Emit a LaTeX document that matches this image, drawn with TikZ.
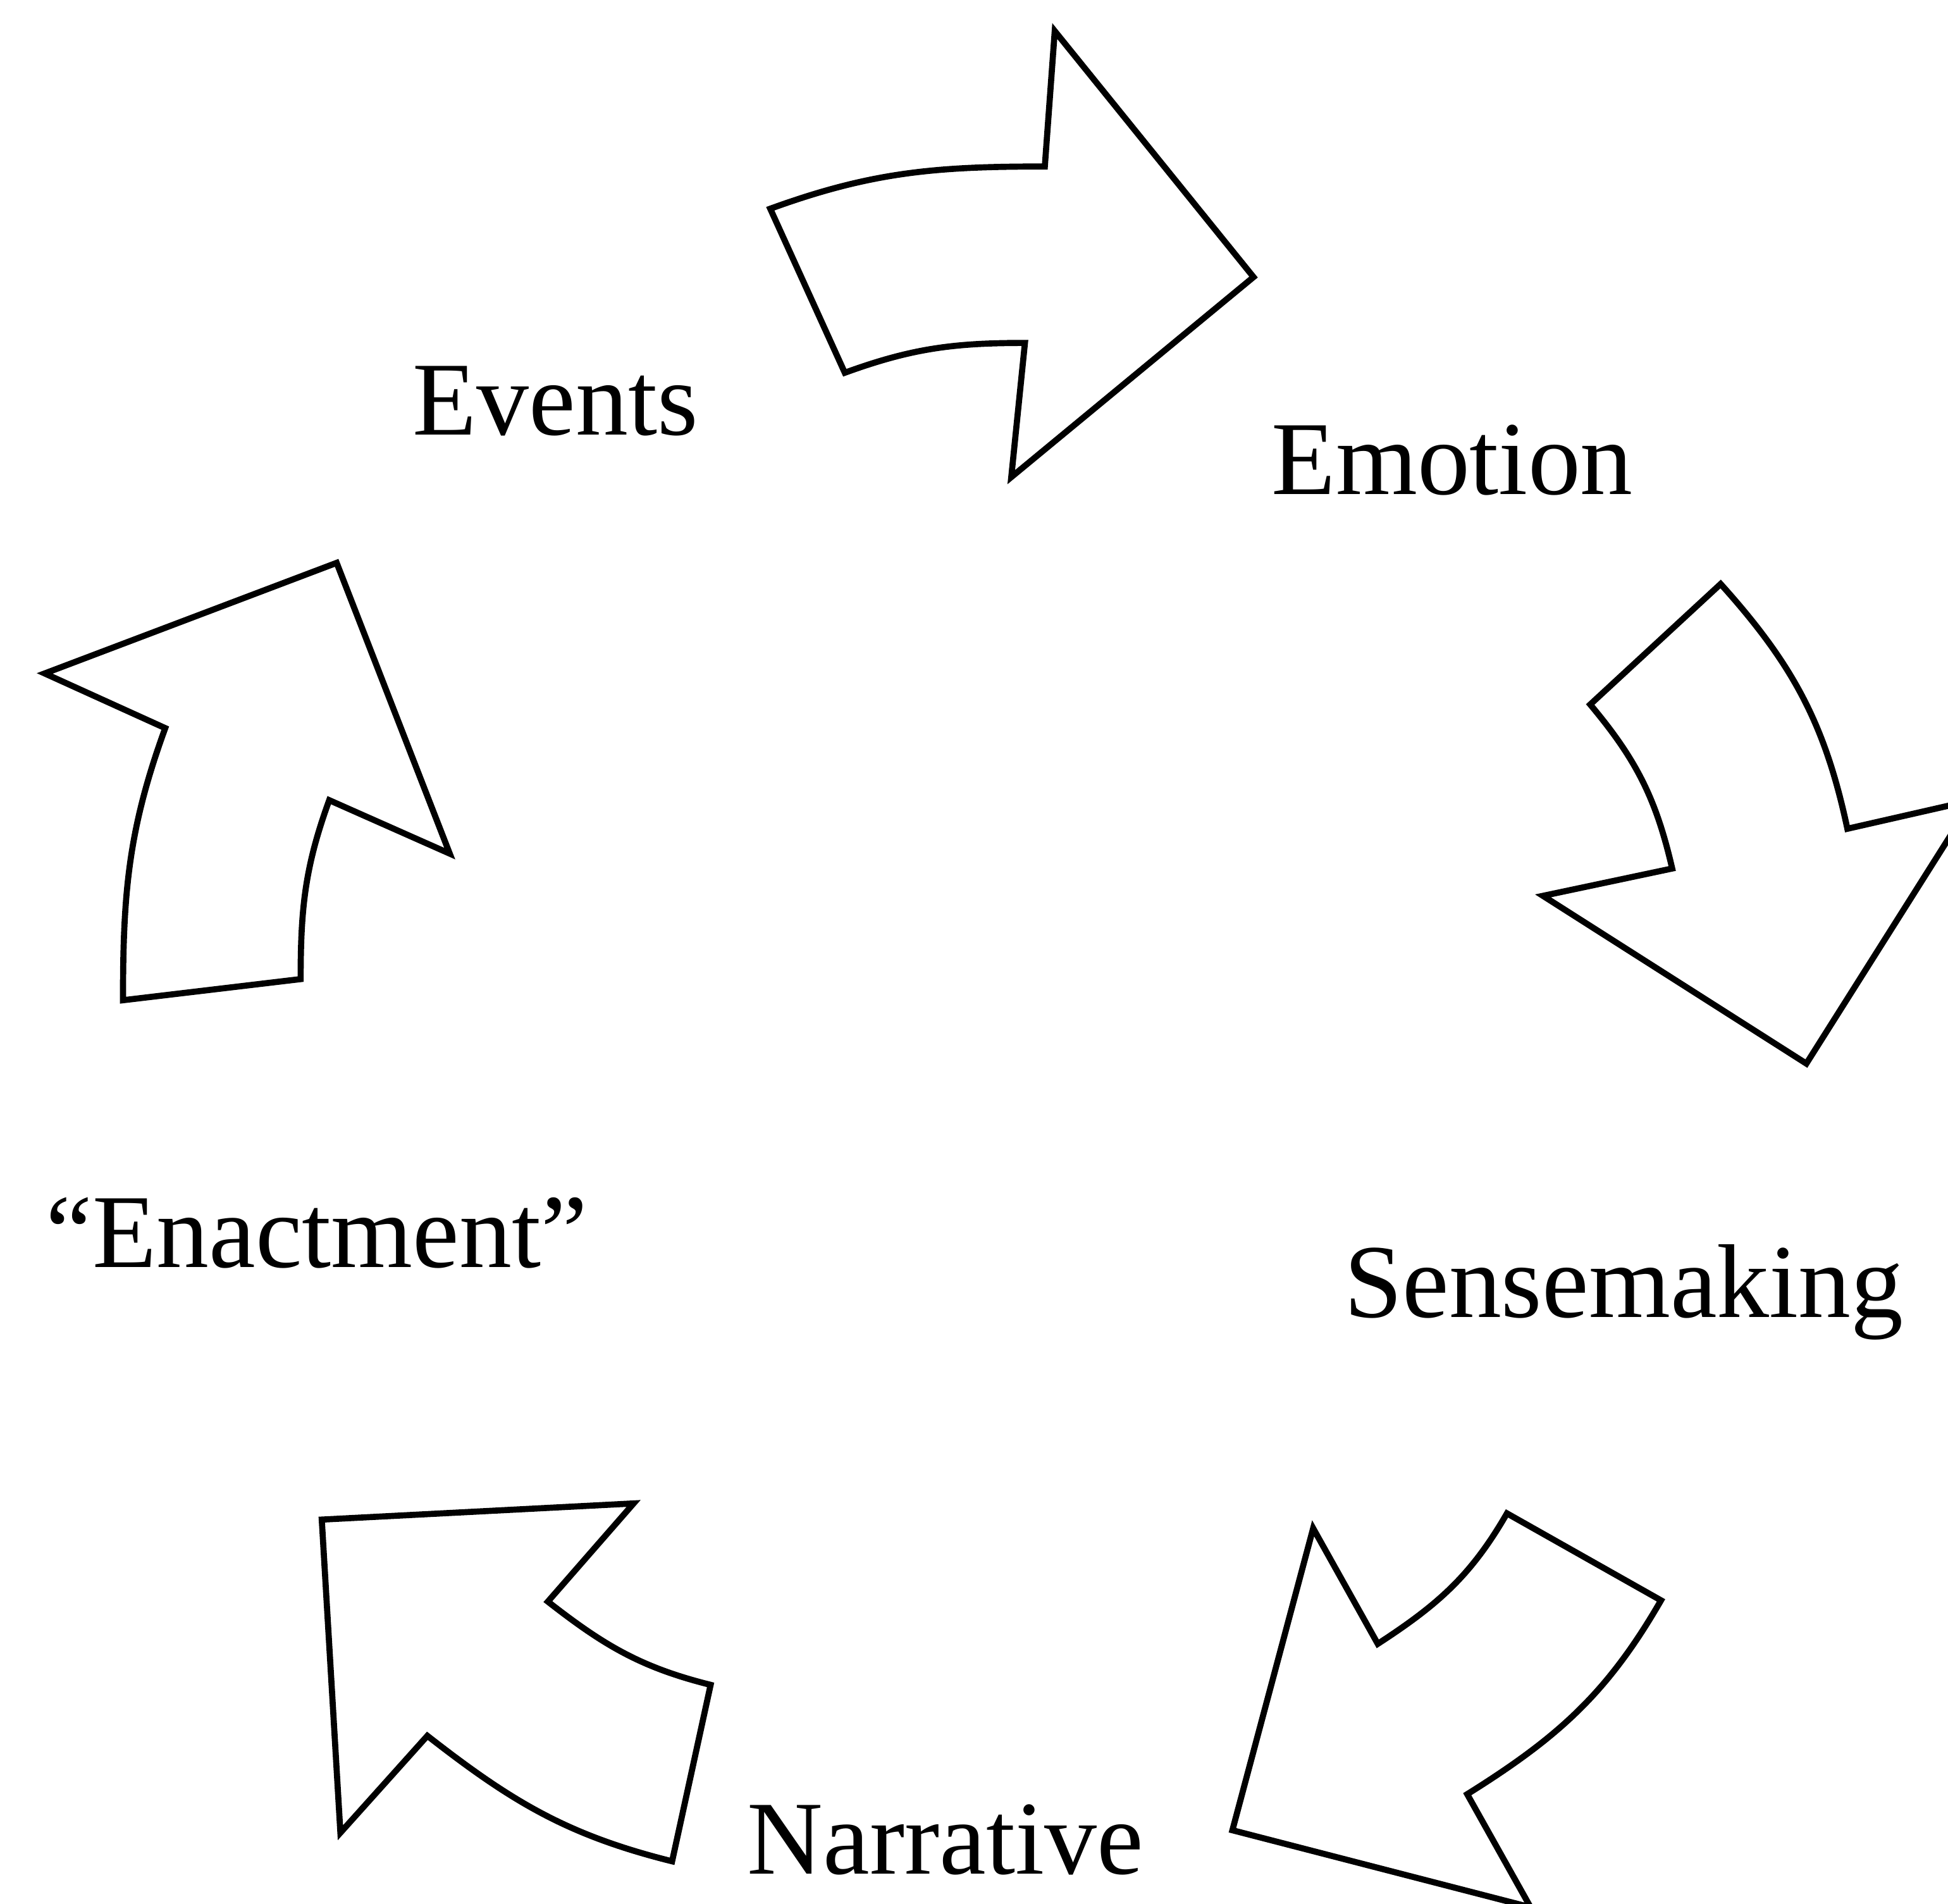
\documentclass[tikz,border=0pt]{standalone}
\usepackage{fontspec}
\setmainfont{Liberation Serif}
\begin{document}
\begin{tikzpicture}[
        x=0.01cm, y=0.01cm,
        cycle_arrow/.style={draw=black, line width=1.4pt, line join=miter},
        stage_label/.style={font=\fontsize{24}{28}\selectfont, anchor=base, inner sep=0pt},
    ]
    
    % Canvas (the right and bottom arrows run off the page)
    \useasboundingbox (0,0) rectangle (1568,1532);
    \clip (0,0) rectangle (1568,1532);
    
    % Stage labels
    \node[stage_label] (events) at (447,1182) {Events};
    \node[stage_label] (emotion) at (1169,1134) {Emotion};
    \node[stage_label] (sensemaking) at (1307,472) {Sensemaking};
    \node[stage_label] (narrative) at (761,24) {Narrative};
    \node[stage_label] (enactment) at (255,512) {“Enactment”};
    
    % Events -> Emotion
    \draw[cycle_arrow] (620,1364) to[out=20,in=180] (841,1398) -- (849,1507) -- (1009,1309)
        -- (814,1148) -- (825,1256) to[out=180,in=20] (680,1232) -- cycle;
    
    % Emotion -> Sensemaking
    \draw[cycle_arrow] (1385,1062) -- (1280,965) to[out=-50,in=103] (1346,833) -- (1242,811)
        -- (1454,676) -- (1588,888) -- (1487,865) to[out=102,in=-48] (1385,1062) -- cycle;
    
    % Sensemaking -> Narrative
    \draw[cycle_arrow] (1057,302) -- (1109,209) to[out=33,in=240] (1213,314) -- (1337,244)
        to[out=240,in=32] (1181,88) -- (1232,-3) -- (992,59) -- cycle;
    
    % Narrative -> Enactment
    \draw[cycle_arrow] (259,309) -- (510,322) -- (441,243) to[out=-38,in=166] (572,176)
        -- (541,34) to[out=166,in=-38] (344,135) -- (274,57) -- cycle;
    
    % Enactment -> Events
    \draw[cycle_arrow] (99,727) -- (242,744) to[out=90,in=250] (265,888) -- (362,845)
        -- (271,1079) -- (36,990) -- (133,946) to[out=250,in=90] (99,727) -- cycle;
    
\end{tikzpicture}
\end{document}
